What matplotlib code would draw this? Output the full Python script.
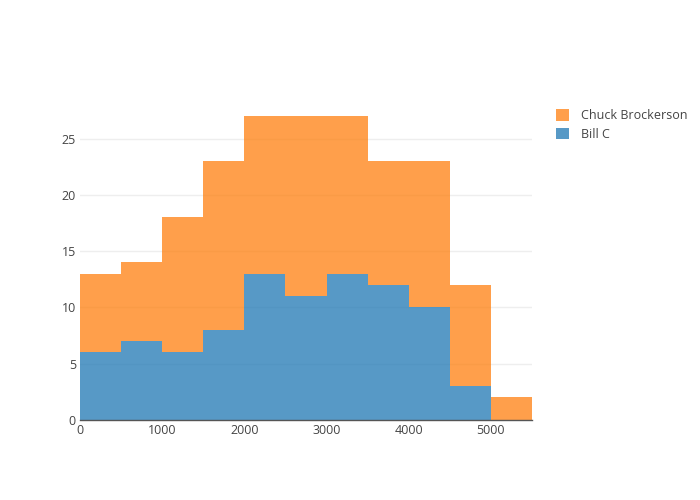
import matplotlib
matplotlib.use("Agg")
import matplotlib.pyplot as plt
import numpy as np

plt.rcParams['font.family'] = ['Open Sans', 'DejaVu Sans']

bin_edges = np.arange(0, 6000, 500)
bill_c = [6, 7, 6, 8, 13, 11, 13, 12, 10, 3, 0]
chuck = [7, 7, 12, 15, 14, 16, 14, 11, 13, 9, 2]

blue = '#1f77b4'
orange = '#ff7f0e'

fig = plt.figure(figsize=(7, 5), dpi=100)
ax = fig.add_axes([80 / 700, 0.16, 452 / 700, 0.64])

left = bin_edges[:-1]
ax.bar(left, bill_c, width=500, align='edge', color=blue, alpha=0.75,
       linewidth=0, label='Bill C', zorder=2)
ax.bar(left, chuck, width=500, bottom=bill_c, align='edge', color=orange,
       alpha=0.75, linewidth=0, label='Chuck Brockerson', zorder=2)

ax.set_xlim(0, 5500)
ax.set_ylim(0, 27 / 0.95)
ax.set_xticks([0, 1000, 2000, 3000, 4000, 5000])
ax.set_yticks([0, 5, 10, 15, 20, 25])
ax.grid(axis='y', color='#eeeeee', linewidth=1, zorder=0)
ax.set_axisbelow(True)
for s in ['top', 'right', 'left']:
    ax.spines[s].set_visible(False)
ax.spines['bottom'].set_color('#555555')
ax.spines['bottom'].set_linewidth(1)
ax.spines['bottom'].set_zorder(3)
ax.tick_params(axis='both', length=0, labelsize=9, labelcolor='#444444', pad=3)

handles, labels = ax.get_legend_handles_labels()
fig.legend(handles[::-1], labels[::-1], loc='upper left',
           bbox_to_anchor=(545 / 700, 1 - 98 / 500), frameon=False,
           fontsize=9, labelcolor='#444444', handlelength=1.0,
           handleheight=1.0, handletextpad=1.0, labelspacing=0.45)

fig.savefig('out.png', dpi=100)
